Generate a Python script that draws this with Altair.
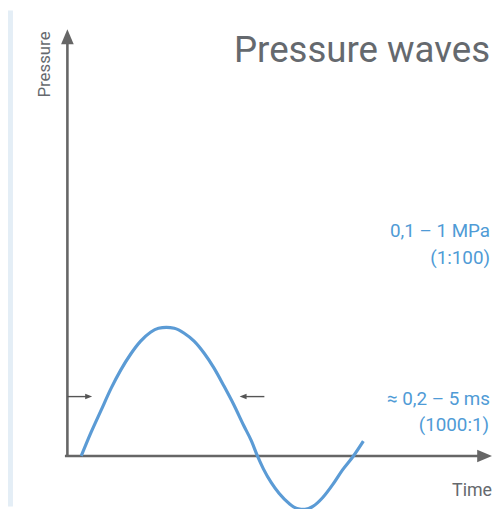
import altair as alt
import pandas as pd

# ---- data (arbitrary time / pressure units, axis origin at 0,0) ----
wave_t = [1.4, 2.4, 3.4, 4.4, 5.4, 6.4, 7.4, 8.4, 9.2, 10.0, 10.8, 11.8, 12.8, 13.8,
          14.8, 15.8, 16.8, 17.8, 18.6, 19.2, 19.8, 20.6, 21.4, 22.4, 23.2, 24.0,
          24.8, 25.8, 26.8, 27.8, 28.9, 29.9]
wave_p = [0.0, 2.4, 4.6, 6.8, 8.7, 10.3, 11.6, 12.5, 12.9, 13.0, 12.9, 12.4, 11.6, 10.4,
          8.9, 7.1, 5.2, 3.1, 1.5, 0.0, -1.3, -2.7, -3.8, -4.8, -5.3, -5.4,
          -5.1, -4.2, -2.9, -1.4, 0.0, 1.5]

title_text = "Pressure waves"
y_label = "Pressure"
x_label = "Time"
pressure_lines = ["0,1 \u2013 1 MPa", "(1:100)"]
duration_lines = ["\u2248 0,2 \u2013 5 ms", "(1000:1)"]

# duration marker (arrow tails and tips, in time units), at pressure level
span_level = 6.0
span_left = [0.0, 2.5]
span_right = [19.9, 17.4]

x_end = 42.9   # time-axis arrow tip
y_end = 43.1   # pressure-axis arrow tip

wave = pd.DataFrame({"t": wave_t, "p": wave_p})

W, H = 492, 501
xs = alt.Scale(domain=[-6.0, 43.2], nice=False, zero=False)
ys = alt.Scale(domain=[-5.1, 45.0], nice=False, zero=False)

AXIS = "#666666"
BLUE = "#5b9bd5"
TBLUE = "#4f9bd6"
GRAY_T = "#65696e"

one = alt.Data(values=[{}])


def X(v):
    return alt.datum(v, scale=xs, type="quantitative", axis=None)


def Y(v):
    return alt.datum(v, scale=ys, type="quantitative", axis=None)


strip = alt.Chart(one).mark_rect(color="#e4eef6").encode(
    x=alt.value(0), x2=alt.value(5), y=alt.value(0), y2=alt.value(H))

x_axis = alt.Chart(one).mark_rule(color=AXIS, strokeWidth=2.6).encode(
    x=X(-0.25), x2=alt.datum(x_end - 1.4), y=Y(0))
y_axis = alt.Chart(one).mark_rule(color=AXIS, strokeWidth=2.6).encode(
    x=X(0), y=Y(-0.1), y2=alt.datum(y_end - 1.4))

x_head = alt.Chart(one).mark_point(
    shape="M0,0L-2,-0.85L-2,0.85Z", size=225, filled=True, opacity=1,
    color=AXIS, strokeWidth=0).encode(x=X(x_end), y=Y(0))
y_head = alt.Chart(one).mark_point(
    shape="M0,0L0.85,2L-0.85,2Z", size=225, filled=True, opacity=1,
    color=AXIS, strokeWidth=0).encode(x=X(0), y=Y(y_end))

DIM = "#555555"
l_line = alt.Chart(one).mark_rule(color=DIM, strokeWidth=1.4).encode(
    x=X(span_left[0]), x2=alt.datum(span_left[1] - 0.5), y=Y(span_level))
r_line = alt.Chart(one).mark_rule(color=DIM, strokeWidth=1.4).encode(
    x=X(span_right[0]), x2=alt.datum(span_right[1] + 0.5), y=Y(span_level))
l_head = alt.Chart(one).mark_point(
    shape="M0,0L-2,-0.8L-2,0.8Z", size=49, filled=True, opacity=1,
    color=DIM, strokeWidth=0).encode(x=X(span_left[1]), y=Y(span_level))
r_head = alt.Chart(one).mark_point(
    shape="M0,0L2,-0.8L2,0.8Z", size=49, filled=True, opacity=1,
    color=DIM, strokeWidth=0).encode(x=X(span_right[1]), y=Y(span_level))

line = alt.Chart(wave).mark_line(
    color=BLUE, strokeWidth=3.2, interpolate="monotone", clip=False).encode(
    x=alt.X("t:Q", scale=xs, axis=None),
    y=alt.Y("p:Q", scale=ys, axis=None))


def txt(s, t, p, size, color, align="right", angle=0):
    return alt.Chart(one).mark_text(
        text=s, font="Roboto", fontSize=size, color=color, align=align,
        baseline="alphabetic", angle=angle).encode(x=X(t), y=Y(p))


texts = [
    txt(title_text, 42.7, 39.8, 37, GRAY_T),
    txt(pressure_lines[0], 42.7, 22.1, 19, TBLUE),
    txt(pressure_lines[1], 42.7, 19.4, 19, TBLUE),
    txt(duration_lines[0], 42.7, 5.1, 19, TBLUE),
    txt(duration_lines[1], 42.6, 2.5, 19, TBLUE),
    txt(x_label, 42.9, -4.0, 18, GRAY_T),
    txt(y_label, -1.8, 39.55, 17, GRAY_T, align="center", angle=270),
]

chart = alt.layer(
    strip, x_axis, y_axis, x_head, y_head, l_line, r_line, l_head, r_head,
    line, *texts
).properties(
    width=W, height=H, padding=0, autosize="none", background="white"
).configure_view(stroke=None)

chart.save("out.html", embed_options={"renderer": "svg", "actions": False})
